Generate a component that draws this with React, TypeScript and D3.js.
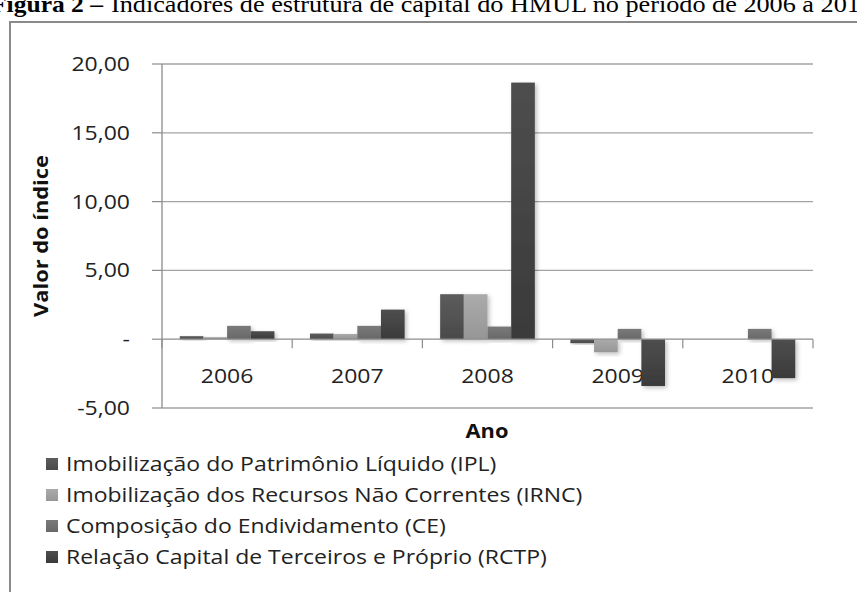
import React from "react";
import * as d3 from "d3";

const categories = ["2006", "2007", "2008", "2009", "2010"];
const seriesNames = [
  "Imobilização do Patrimônio Líquido (IPL)",
  "Imobilização dos Recursos Não Correntes  (IRNC)",
  "Composição do Endividamento (CE)",
  "Relação Capital de Terceiros e Próprio (RCTP)",
];
const iplValues = [0.22, 0.41, 3.27, -0.29, 0];
const irncValues = [0.15, 0.38, 3.27, -0.95, 0];
const ceValues = [0.97, 0.97, 0.92, 0.75, 0.75];
const rctpValues = [0.58, 2.15, 18.65, -3.4, -2.83];
const yTicks = [-5, 0, 5, 10, 15, 20];
const titleBold = "Figura 2 –";
const titleRest = "Indicadores de estrutura de capital do HMUL no período de 2006 a 2010";
const yTitle = "Valor do índice";
const xTitle = "Ano";

const seriesValues = [iplValues, irncValues, ceValues, rctpValues];
const colorsTop = ["#5c5c5c", "#ababab", "#7a7a7a", "#4e4e4e"];
const colorsBottom = ["#4a4a4a", "#969696", "#686868", "#3a3a3a"];

const W = 857;
const H = 592;
const FONT = "'Open Sans', 'Noto Sans', sans-serif";
const SX = 1.15;

export default function App() {
  const left = 162;
  const right = 813;
  const x0 = d3.scaleBand<string>().domain(categories).range([left, right]).paddingInner(0).paddingOuter(0);
  const x1 = d3
    .scaleBand<number>()
    .domain(d3.range(seriesNames.length))
    .range([0, x0.bandwidth()])
    .paddingInner(0)
    .paddingOuter(0.75);
  const y = d3.scaleLinear().domain([-5, 20]).range([408, 64]);
  const locale = d3.formatLocale({ decimal: ",", thousands: ".", grouping: [3], currency: ["R$", ""], minus: "-" } as any);
  const fmt = locale.format(".2f");
  const tickLabel = (v: number) => (v === 0 ? "-" : fmt(v));
  const gridColor = "#a3a3a3";
  const axisColor = "#8c8c8c";
  const boundaries = d3.range(categories.length + 1).map((i) => left + i * x0.step());

  return (
    <svg width={W} height={H} style={{ position: "absolute", left: 0, top: 0, background: "#fff" }}>
      <defs>
        {colorsTop.map((c, i) => (
          <linearGradient key={i} id={`g${i}`} x1="0" y1="0" x2="0" y2="1">
            <stop offset="0%" stopColor={c} />
            <stop offset="100%" stopColor={colorsBottom[i]} />
          </linearGradient>
        ))}
        <filter id="sh" x="-30%" y="-30%" width="160%" height="160%">
          <feDropShadow dx="2" dy="2" stdDeviation="2" floodColor="#000" floodOpacity="0.25" />
        </filter>
      </defs>
      <rect width={W} height={H} fill="#fff" />
      {/* title, partly cut off at top as in the source image */}
      <text x={-9} y={12} fontFamily="'Liberation Serif', serif" fontSize={24} fontWeight="bold" textLength={112} lengthAdjust="spacingAndGlyphs" fill="#000">
        {titleBold}
      </text>
      <text x={111} y={12} fontFamily="'Liberation Serif', serif" fontSize={24} textLength={762} lengthAdjust="spacingAndGlyphs" fill="#000">
        {titleRest}
      </text>
      {/* frame */}
      <rect x={10} y={22} width={900} height={700} fill="none" stroke="#8a8a8a" strokeWidth={2} />

      {/* gridlines */}
      {yTicks.map((t) => (
        <g key={t}>
          {t !== 0 && <line x1={left} x2={right} y1={y(t)} y2={y(t)} stroke={gridColor} strokeWidth={1.3} />}
          <line x1={152} x2={left} y1={y(t)} y2={y(t)} stroke={axisColor} strokeWidth={1.2} />
          <text transform={`translate(130,${y(t)}) scale(${SX},1)`} dy="0.35em" textAnchor="end" fontFamily={FONT} fontSize={20} fill="#222">
            {tickLabel(t)}
          </text>
        </g>
      ))}
      {/* y axis */}
      <line x1={left} x2={left} y1={y(20)} y2={y(-5)} stroke={axisColor} strokeWidth={1.3} />
      {/* category labels */}
      {categories.map((c) => (
        <text key={c} transform={`translate(${x0(c)! + x0.bandwidth() / 2},383) scale(${SX},1)`} textAnchor="middle" fontFamily={FONT} fontSize={20} fill="#222">
          {c}
        </text>
      ))}
      {/* bars */}
      {categories.map((c, ci) => (
        <g key={c}>
          {seriesValues.map((vals, si) => {
            const v = vals[ci];
            if (v === 0) return null;
            const yTop = y(Math.max(0, v));
            const yBot = y(Math.min(0, v));
            return (
              <rect
                key={si}
                x={x0(c)! + x1(si)!}
                y={yTop}
                width={x1.bandwidth()}
                height={yBot - yTop}
                fill={`url(#g${si})`}
                filter="url(#sh)"
              />
            );
          })}
        </g>
      ))}
      {/* category axis at zero */}
      <line x1={left} x2={right} y1={y(0)} y2={y(0)} stroke={axisColor} strokeWidth={1.3} />
      {boundaries.map((bx, i) => (
        <line key={i} x1={bx} x2={bx} y1={y(0)} y2={y(0) + 9} stroke={axisColor} strokeWidth={1.2} />
      ))}
      {/* axis titles */}
      <text transform={`translate(487,438) scale(${SX},1)`} textAnchor="middle" fontFamily={FONT} fontSize={19} fontWeight="bold" fill="#111">
        {xTitle}
      </text>
      <text transform={`translate(48,236) rotate(-90) scale(${SX},1)`} textAnchor="middle" fontFamily={FONT} fontSize={19} fontWeight="bold" fill="#111">
        {yTitle}
      </text>
      {/* legend */}
      {seriesNames.map((n, i) => {
        const cy = 464 + i * 31;
        return (
          <g key={n}>
            <rect x={46} y={cy - 6} width={12} height={12} fill={`url(#g${i})`} />
            <text transform={`translate(66,${cy}) scale(${SX},1)`} dy="0.35em" fontFamily={FONT} fontSize={20} fill="#222">
              {n}
            </text>
          </g>
        );
      })}
    </svg>
  );
}
